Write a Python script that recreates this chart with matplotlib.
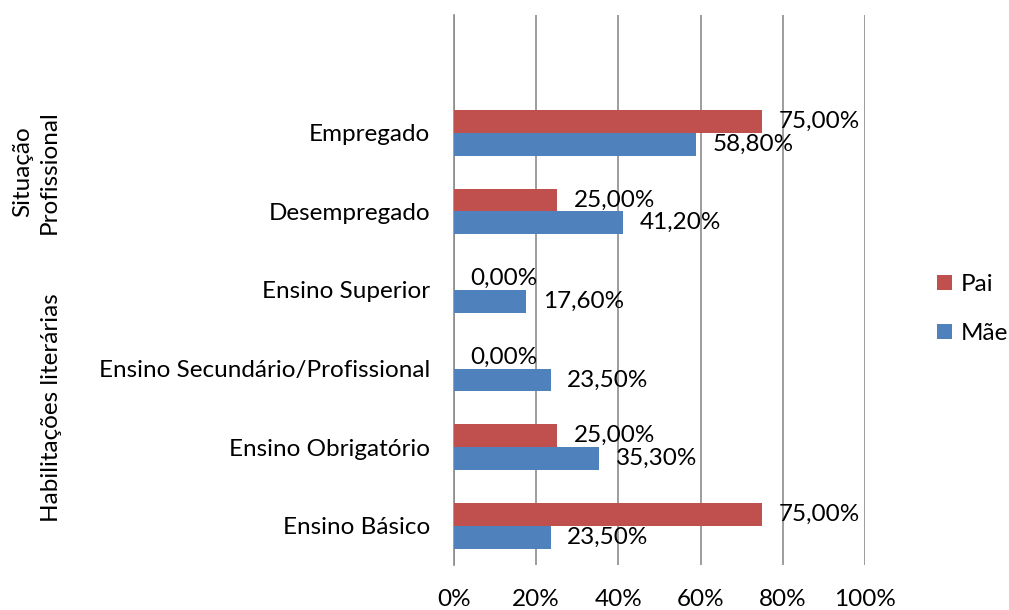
import matplotlib
matplotlib.use("Agg")
import matplotlib.pyplot as plt
import numpy as np
from matplotlib.patches import Patch

categories = ["Ensino Básico", "Ensino Obrigatório", "Ensino Secundário/Profissional",
              "Ensino Superior", "Desempregado", "Empregado"]
pai = [75.0, 25.0, 0.0, 0.0, 25.0, 75.0]
mae = [23.5, 35.3, 23.5, 17.6, 41.2, 58.8]
xticks = [0, 20, 40, 60, 80, 100]
groups = ["Habilitações literárias", "Situação\nProfissional"]

FONT = "Lato"
FS = 17.5
plt.rcParams["font.family"] = [FONT, "DejaVu Sans"]

fig = plt.figure(figsize=(10.09, 6.10), dpi=100)
ax = fig.add_axes([454/1009, 45/610, (865-454)/1009, 550/610])

y = np.arange(len(categories))
h = 0.29
red = "#C0504D"
blue = "#4F81BD"
ax.barh(y + h/2, pai, height=h, color=red, linewidth=0, zorder=3)
ax.barh(y - h/2, mae, height=h, color=blue, linewidth=0, zorder=3)

def fmt(v):
    return f"{v:.2f}".replace(".", ",") + "%"

for yi, v in zip(y, pai):
    ax.annotate(fmt(v), (v, yi + h/2), xytext=(12, 0), textcoords="offset points",
                va="center", ha="left", fontsize=FS, color="black", zorder=4)
for yi, v in zip(y, mae):
    ax.annotate(fmt(v), (v, yi - h/2), xytext=(12, 0), textcoords="offset points",
                va="center", ha="left", fontsize=FS, color="black", zorder=4)

ax.set_xlim(0, 100)
ax.set_ylim(-0.5, 6.5)
ax.set_xticks(xticks)
ax.set_xticklabels([f"{t}%" for t in xticks], fontsize=FS)
ax.set_yticks(y)
ax.set_yticklabels(categories, fontsize=FS)
ax.tick_params(axis="x", length=0, pad=17)
ax.tick_params(axis="y", length=0, pad=17)
ax.grid(axis="x", color="#8C8C8C", linewidth=1.2, zorder=1)
for s in ["top", "right", "bottom"]:
    ax.spines[s].set_visible(False)
ax.spines["left"].set_color("#8C8C8C")
ax.spines["left"].set_linewidth(1.2)

# group labels
fig.text(36/1009, 1 - 172/610, groups[1], rotation=90, ha="center", va="center",
         fontsize=FS, multialignment="center", linespacing=1.3)
fig.text(52/1009, 1 - 408/610, groups[0], rotation=90, ha="center", va="center",
         fontsize=FS)

handles = [Patch(facecolor=red, edgecolor="none"), Patch(facecolor=blue, edgecolor="none")]
fig.legend(handles, ["Pai", "Mãe"], loc="center left", bbox_to_anchor=(937/1009, 1 - 309/610),
           frameon=False, fontsize=FS, handlelength=0.62, handleheight=0.62,
           handletextpad=0.37, labelspacing=1.15, borderpad=0, borderaxespad=0)

fig.savefig("out.png", dpi=100)
